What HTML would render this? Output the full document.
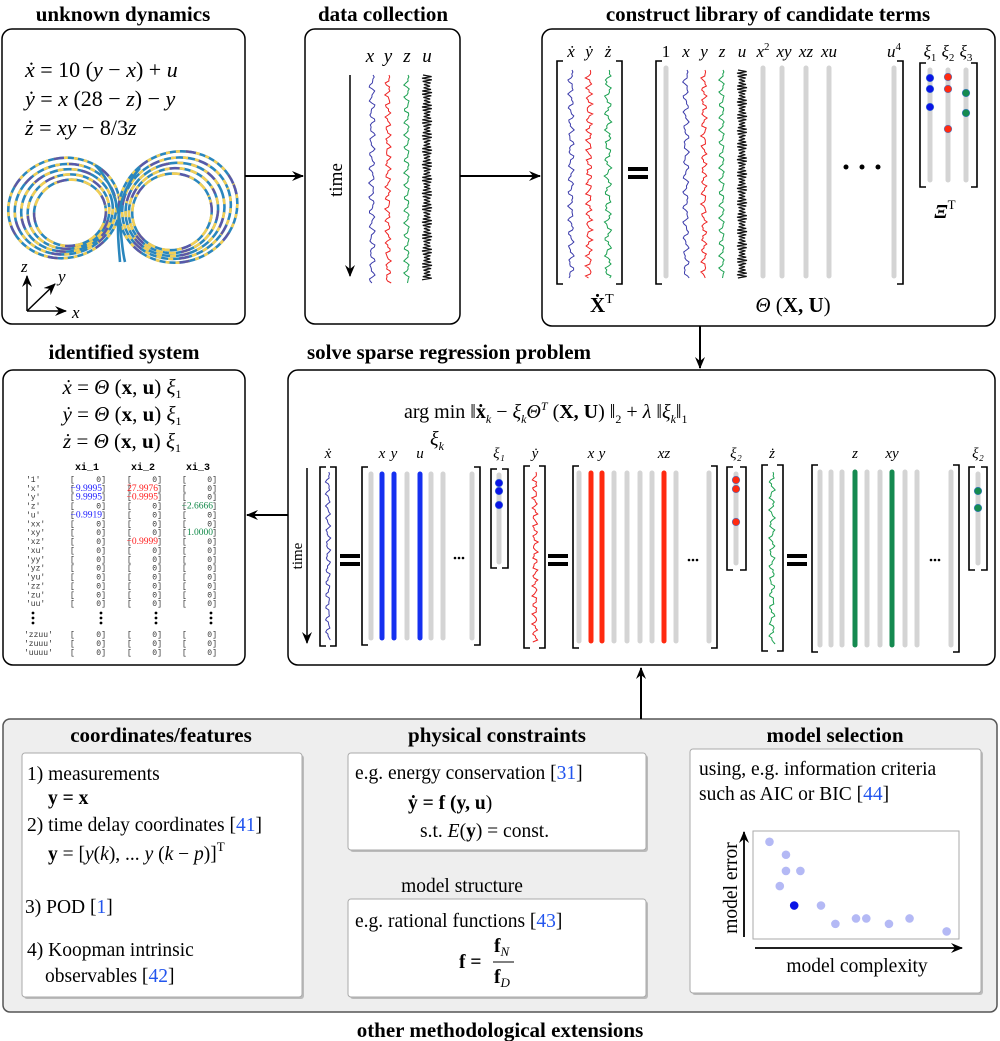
<!DOCTYPE html>
<html><head><meta charset="utf-8">
<style>
html,body{margin:0;padding:0;background:#fff;}
svg{display:block;font-family:"Liberation Serif",serif;}
.t{font-weight:bold;font-size:21px;text-anchor:middle;}
.mono{font-family:"Liberation Mono",monospace;font-size:8px;fill:#333;}
.it{font-style:italic;}
</style></head>
<body>
<svg id="fig" width="1000" height="1041" viewBox="0 0 1000 1041">
<defs>
<marker id="ah" viewBox="0 0 12 10" refX="11" refY="5" markerWidth="12" markerHeight="10" markerUnits="userSpaceOnUse" orient="auto">
<path d="M0,0 L12,5 L0,10 L4,5 Z" fill="#000"/></marker>
</defs>

<text class="t" x="123" y="21">unknown dynamics</text>
<text class="t" x="383" y="21">data collection</text>
<text class="t" x="768" y="21">construct library of candidate terms</text>
<text class="t" x="124" y="359">identified system</text>
<text class="t" x="449" y="359">solve sparse regression problem</text>

<rect x="2" y="29" width="243" height="295" rx="10" fill="#fff" stroke="#000" stroke-width="1.5"/>
<rect x="305" y="29" width="155" height="295" rx="10" fill="#fff" stroke="#000" stroke-width="1.5"/>
<rect x="542" y="29" width="453" height="297" rx="10" fill="#fff" stroke="#000" stroke-width="1.5"/>
<rect x="3" y="370" width="242" height="295" rx="10" fill="#fff" stroke="#000" stroke-width="1.5"/>
<rect x="288" y="370" width="707" height="295" rx="10" fill="#fff" stroke="#000" stroke-width="1.5"/>

<line x1="245" y1="176" x2="303" y2="176" stroke="#000" stroke-width="2" marker-end="url(#ah)"/>
<line x1="460" y1="176" x2="540" y2="176" stroke="#000" stroke-width="2" marker-end="url(#ah)"/>
<line x1="700" y1="326" x2="700" y2="368" stroke="#000" stroke-width="2" marker-end="url(#ah)"/>
<line x1="288" y1="515" x2="247" y2="515" stroke="#000" stroke-width="2" marker-end="url(#ah)"/>

<g font-size="22">
<text x="25" y="77"><tspan class="it">ẋ</tspan> = 10 (<tspan class="it">y</tspan> − <tspan class="it">x</tspan>) + <tspan class="it">u</tspan></text>
<text x="25" y="106"><tspan class="it">ẏ</tspan> = <tspan class="it">x</tspan> (28 − <tspan class="it">z</tspan>) − <tspan class="it">y</tspan></text>
<text x="25" y="135"><tspan class="it">ż</tspan> = <tspan class="it">xy</tspan> − 8/3<tspan class="it">z</tspan></text>
</g>
<g id="attractor"></g>
<g stroke="#000" stroke-width="1.5" fill="none">
<line x1="27" y1="311" x2="27" y2="276" marker-end="url(#ah)"/>
<line x1="27" y1="311" x2="55" y2="284" marker-end="url(#ah)"/>
<line x1="27" y1="311" x2="66" y2="311" marker-end="url(#ah)"/>
</g>
<text x="21" y="272" font-size="17" class="it">z</text>
<text x="58" y="282" font-size="17" class="it">y</text>
<text x="72" y="318" font-size="17" class="it">x</text>

<g font-size="19" class="it" text-anchor="middle">
<text x="370" y="62">x</text><text x="388" y="62">y</text><text x="407" y="62">z</text><text x="427" y="62">u</text>
</g>
<line x1="350" y1="75" x2="350" y2="276" stroke="#000" stroke-width="1.5" marker-end="url(#ah)"/>
<text x="0" y="0" font-size="19" text-anchor="middle" transform="translate(342,180) rotate(-90)">time</text>
<g id="datacols"></g>

<g id="lib"></g>
<g font-size="17" text-anchor="middle">
<text x="571" y="57" class="it">ẋ</text><text x="589" y="57" class="it">ẏ</text><text x="608" y="57" class="it">ż</text>
<text x="666" y="57">1</text><text x="686" y="57" class="it">x</text><text x="704" y="57" class="it">y</text><text x="722" y="57" class="it">z</text><text x="742" y="57" class="it">u</text>
<text x="763" y="57" class="it">x<tspan font-size="11" dy="-7" font-style="normal">2</tspan></text>
<text x="784" y="57" class="it">xy</text><text x="806" y="57" class="it">xz</text><text x="829" y="57" class="it">xu</text>
<text x="894" y="57" class="it">u<tspan font-size="11" dy="-7" font-style="normal">4</tspan></text>
<text x="930" y="57" class="it">ξ<tspan font-size="11" dy="4" font-style="normal">1</tspan></text>
<text x="948" y="57" class="it">ξ<tspan font-size="11" dy="4" font-style="normal">2</tspan></text>
<text x="966" y="57" class="it">ξ<tspan font-size="11" dy="4" font-style="normal">3</tspan></text>
</g>
<text x="590" y="312" font-size="21" font-weight="bold">Ẋ<tspan font-weight="normal" font-size="14" dy="-9">T</tspan></text>
<text x="793" y="312" font-size="21" text-anchor="middle"><tspan class="it">Θ</tspan> (<tspan font-weight="bold">X, U</tspan>)</text>
<text x="945" y="218" font-size="20" font-weight="bold" text-anchor="middle"><tspan class="it">Ξ</tspan><tspan font-weight="normal" font-size="13" dy="-9">T</tspan></text>

<g font-size="21" text-anchor="middle">
<text x="122" y="394"><tspan class="it">ẋ</tspan> = <tspan class="it">Θ</tspan> (<tspan font-weight="bold">x</tspan>, <tspan font-weight="bold">u</tspan>) <tspan class="it">ξ</tspan><tspan font-size="12" dy="4">1</tspan></text>
<text x="122" y="421"><tspan class="it">ẏ</tspan> = <tspan class="it">Θ</tspan> (<tspan font-weight="bold">x</tspan>, <tspan font-weight="bold">u</tspan>) <tspan class="it">ξ</tspan><tspan font-size="12" dy="4">1</tspan></text>
<text x="122" y="448"><tspan class="it">ż</tspan> = <tspan class="it">Θ</tspan> (<tspan font-weight="bold">x</tspan>, <tspan font-weight="bold">u</tspan>) <tspan class="it">ξ</tspan><tspan font-size="12" dy="4">1</tspan></text>
</g>
<g id="table"></g>

<text x="404" y="418" font-size="20">arg min ‖<tspan font-weight="bold">ẋ</tspan><tspan font-size="12" dy="5" class="it">k</tspan><tspan dy="-5"> − </tspan><tspan class="it">ξ</tspan><tspan font-size="12" dy="5" class="it">k</tspan><tspan dy="-5" class="it">Θ</tspan><tspan font-size="12" dy="-8" class="it">T</tspan><tspan dy="8"> (</tspan><tspan font-weight="bold">X, U</tspan>) ‖<tspan font-size="12" dy="5">2</tspan><tspan dy="-5"> +  </tspan><tspan class="it">λ</tspan> ‖<tspan class="it">ξ</tspan><tspan font-size="12" dy="5" class="it">k</tspan><tspan dy="-5">‖</tspan><tspan font-size="12" dy="5">1</tspan></text>
<text x="430" y="445" font-size="20" class="it">ξ<tspan font-size="12" dy="5">k</tspan></text>
<line x1="307" y1="468" x2="307" y2="643" stroke="#000" stroke-width="1.5" marker-end="url(#ah)"/>
<text x="0" y="0" font-size="15" text-anchor="middle" transform="translate(302,556) rotate(-90)">time</text>
<g id="reg"></g>

<rect x="3" y="719" width="994" height="293" rx="7" fill="#eeeeee" stroke="#555" stroke-width="1.5"/>
<line x1="641" y1="719" x2="641" y2="668" stroke="#000" stroke-width="2" marker-end="url(#ah)"/>
<text class="t" x="161" y="742">coordinates/features</text>
<text class="t" x="497" y="742">physical constraints</text>
<text class="t" x="835" y="742">model selection</text>
<text class="t" x="500" y="1037">other methodological extensions</text>

<rect x="24" y="755" width="280" height="244" rx="3" fill="#999" opacity="0.6"/>
<rect x="22" y="753" width="280" height="244" rx="3" fill="#fff" stroke="#aaa"/>
<g font-size="19.5">
<text x="27" y="780">1) measurements</text>
<text x="48" y="804" font-weight="bold">y = x</text>
<text x="27" y="831">2) time delay coordinates [<tspan fill="#2255ee">41</tspan>]</text>
<text x="48" y="860"><tspan font-weight="bold">y</tspan> = [<tspan class="it">y</tspan>(<tspan class="it">k</tspan>), ... <tspan class="it">y</tspan> (<tspan class="it">k</tspan> − <tspan class="it">p</tspan>)]<tspan font-size="13" dy="-9">T</tspan></text>
<text x="25" y="913">3) POD [<tspan fill="#2255ee">1</tspan>]</text>
<text x="27" y="956">4) Koopman intrinsic</text>
<text x="45" y="982">observables [<tspan fill="#2255ee">42</tspan>]</text>
</g>

<rect x="350" y="755" width="298" height="97" rx="3" fill="#999" opacity="0.6"/>
<rect x="348" y="753" width="298" height="97" rx="3" fill="#fff" stroke="#aaa"/>
<g font-size="19.5">
<text x="355" y="779">e.g. energy conservation [<tspan fill="#2255ee">31</tspan>]</text>
<text x="408" y="809" font-weight="bold">ẏ = f (y, u<tspan font-weight="normal">)</tspan></text>
<text x="420" y="837">s.t. <tspan class="it">E</tspan>(<tspan font-weight="bold">y</tspan>) = const.</text>
</g>
<text x="462" y="892" font-size="19.5" text-anchor="middle">model structure</text>
<rect x="350" y="901" width="298" height="98" rx="3" fill="#999" opacity="0.6"/>
<rect x="348" y="899" width="298" height="98" rx="3" fill="#fff" stroke="#aaa"/>
<g font-size="19.5">
<text x="355" y="927">e.g. rational functions [<tspan fill="#2255ee">43</tspan>]</text>
<text x="459" y="968" font-weight="bold">f =</text>
<text x="494" y="952" font-weight="bold">f<tspan font-weight="normal" font-style="italic" font-size="13" dy="4">N</tspan></text>
<line x1="493" y1="962" x2="514" y2="962" stroke="#000" stroke-width="1"/>
<text x="494" y="983" font-weight="bold">f<tspan font-weight="normal" font-style="italic" font-size="13" dy="4">D</tspan></text>
</g>

<rect x="692" y="751" width="291" height="244" rx="3" fill="#999" opacity="0.6"/>
<rect x="690" y="749" width="291" height="244" rx="3" fill="#fff" stroke="#aaa"/>
<g font-size="19.5">
<text x="699" y="775">using, e.g. information criteria</text>
<text x="699" y="800">such as AIC or BIC [<tspan fill="#2255ee">44</tspan>]</text>
</g>
<rect x="753" y="831" width="206" height="108" fill="none" stroke="#aaa"/>
<line x1="744" y1="937" x2="744" y2="832" stroke="#000" stroke-width="1.8" marker-end="url(#ah)"/>
<line x1="755" y1="948" x2="962" y2="948" stroke="#000" stroke-width="1.8" marker-end="url(#ah)"/>
<text x="0" y="0" font-size="19.5" text-anchor="middle" transform="translate(737,888) rotate(-90)">model error</text>
<text x="857" y="972" font-size="19.5" text-anchor="middle">model complexity</text>
<g id="scatter"></g>
</svg>

<script>
const complexity = [8, 16, 16, 23, 13, 20, 33, 40, 50, 55, 66, 76, 94];
const modelError = [90, 78, 63, 63, 49, 31, 31, 14, 19, 19, 14, 19, 7];
const selectedIndex = [5];

const termNames = ["'1'","'x'","'y'","'z'","'u'","'xx'","'xy'","'xz'","'xu'","'yy'","'yz'","'yu'","'zz'","'zu'","'uu'"];
const xi1Values = [0,-9.9995,9.9995,0,-0.9919,0,0,0,0,0,0,0,0,0,0];
const xi2Values = [0,27.9976,-0.9995,0,0,0,0,-0.9999,0,0,0,0,0,0,0];
const xi3Values = [0,0,0,-2.6666,0,0,1.0000,0,0,0,0,0,0,0,0];
const tailTerms = ["'zzuu'","'zuuu'","'uuuu'"];

const NS = "http://www.w3.org/2000/svg";
function mk(parent, tag, attrs, text){
  const e = document.createElementNS(NS, tag);
  for (const k in attrs) e.setAttribute(k, attrs[k]);
  if (text !== undefined) e.textContent = text;
  parent.appendChild(e);
  return e;
}

const sx = v => 753 + v / 100 * 206;
const sy = v => 939 - v / 100 * 108;
const sc = document.getElementById('scatter');
complexity.forEach((c, i) => {
  const sel = selectedIndex.includes(i);
  const el = mk(sc, 'circle', {cx: sx(c), cy: sy(modelError[i]), r: 4.3, fill: sel ? '#0a14e6' : '#b4b9f5'});
  
  
});

function squiggle(parent, cx, y0, y1, amp, f1, f2, color, w, name, step){
  step = step || 2;
  let d = '';
  for (let y = y0, k = 0; y <= y1; y += step, k++){
    const x = cx + amp * (Math.sin(k * f1) * 0.7 + Math.sin(k * f2 + 1) * 0.4);
    d += (k ? 'L' : 'M') + x.toFixed(1) + ',' + y.toFixed(1);
  }
  const el = mk(parent, 'path', {d: d, fill: 'none', stroke: color, 'stroke-width': w});
  
  
}
function zig(parent, cx, y0, y1, amp, name){
  let d = '';
  for (let y = y0, k = 0; y <= y1; y += 1.6, k++){
    const x = cx + (k % 2 ? amp : -amp) * (0.8 + 0.2 * Math.sin(k * 0.7));
    d += (k ? 'L' : 'M') + x.toFixed(1) + ',' + y.toFixed(1);
  }
  const el = mk(parent, 'path', {d: d, fill: 'none', stroke: '#111', 'stroke-width': 1.2});
  
  
}
function bracket(parent, x1, x2, y1, y2, name){
  const d = `M${x1+6},${y1}H${x1}V${y2}H${x1+6}M${x2-6},${y1}H${x2}V${y2}H${x2-6}`;
  const el = mk(parent, 'path', {d: d, fill: 'none', stroke: '#000', 'stroke-width': 1.6});
  
  
}
function col(parent, x, y1, y2, color, w, name){
  const el = mk(parent, 'line', {x1: x, x2: x, y1: y1, y2: y2, stroke: color, 'stroke-width': w, 'stroke-linecap': 'round'});
  
  
}
function dot(parent, x, y, color, name){
  const el = mk(parent, 'circle', {cx: x, cy: y, r: 3.8, fill: color, stroke: '#4a7fd0', 'stroke-width': 0.6});
  
  
}
function eq(parent, x, y, name){
  const e1 = mk(parent, 'rect', {x: x - 10, y: y - 6, width: 20, height: 4, fill: '#000'});
  
  
  const e2 = mk(parent, 'rect', {x: x - 10, y: y + 2, width: 20, height: 4, fill: '#000'});
  
  
}
function dots3(parent, xs, y, r, name){
  xs.forEach(x => {
    const el = mk(parent, 'circle', {cx: x, cy: y, r: r, fill: '#000'});
    
    
  });
}

// attractor (decorative)
const at = document.getElementById('attractor');
const lobes = [
  {cx: 64, cy: 208, rx: [56, 51, 46, 41, 36], ry: [50, 45, 41, 37, 33], rot: -12, dx: 1.5},
  {cx: 178, cy: 207, rx: [60, 55, 50, 45, 40], ry: [55, 50, 46, 42, 38], rot: -22, dx: -1.5}
];
lobes.forEach((L) => {
  L.rx.forEach((rx, j) => {
    const cx = L.cx + j * L.dx, cy = L.cy + j * 1.2;
    const base = mk(at, 'ellipse', {cx: cx, cy: cy, rx: rx, ry: L.ry[j], fill: 'none', stroke: '#2a86bd', 'stroke-width': 2.6, transform: `rotate(${L.rot} ${cx} ${cy})`});
    
    
    const ov = mk(at, 'ellipse', {cx: cx, cy: cy, rx: rx, ry: L.ry[j], fill: 'none', stroke: '#f2cf55', 'stroke-width': 2.6, 'stroke-dasharray': (4 + j) + ' ' + (6 + j % 3), 'stroke-dashoffset': j * 3, transform: `rotate(${L.rot} ${cx} ${cy})`});
    
    
    const pv = mk(at, 'ellipse', {cx: cx, cy: cy, rx: rx, ry: L.ry[j], fill: 'none', stroke: '#5a58a8', 'stroke-width': 2.4, 'stroke-dasharray': '10 40', 'stroke-dashoffset': j * 11, transform: `rotate(${L.rot} ${cx} ${cy})`});
    
    
  });
});
const cross = mk(at, 'path', {d: 'M95,165 C125,195 118,235 125,262 M140,168 C112,200 118,235 120,262', fill: 'none', stroke: '#2a86bd', 'stroke-width': 2.6});



const dc = document.getElementById('datacols');
squiggle(dc, 372, 75, 283, 3, 0.9, 1.7, '#3a3aaa', 1, 'series-x');
squiggle(dc, 388, 75, 283, 3, 1.1, 2.3, '#ee2222', 1, 'series-y');
squiggle(dc, 407, 75, 283, 3, 1.0, 2.0, '#1aa050', 1, 'series-z');
zig(dc, 427, 75, 281, 5, 'series-u');

const lib = document.getElementById('lib');
bracket(lib, 557, 622, 61, 284, 'xdot-matrix-bracket');
squiggle(lib, 571, 70, 278, 3, 0.9, 1.9, '#3a3aaa', 1, 'lib-xdot-series');
squiggle(lib, 589, 70, 278, 3.5, 1.2, 2.6, '#ee2222', 1, 'lib-ydot-series');
squiggle(lib, 608, 70, 278, 3.5, 0.8, 2.2, '#1aa050', 1, 'lib-zdot-series');
eq(lib, 638, 173, 'library-equals-sign');
bracket(lib, 656, 903, 61, 284, 'theta-matrix-bracket');
[666, 763, 782, 806, 829, 894].forEach(x => col(lib, x, 68, 276, '#d4d4d4', 5, 'library-column'));
squiggle(lib, 686, 70, 278, 3, 0.8, 1.7, '#3a3aaa', 1, 'lib-x-series');
squiggle(lib, 704, 70, 278, 3, 1.1, 2.4, '#ee2222', 1, 'lib-y-series');
squiggle(lib, 722, 70, 278, 3, 1.0, 2.0, '#1aa050', 1, 'lib-z-series');
zig(lib, 742, 70, 278, 5, 'lib-u-series');
dots3(lib, [846, 862, 878], 167, 2.5, 'library-ellipsis');
bracket(lib, 920, 977, 63, 187, 'xi-matrix-bracket');
[930, 948, 966].forEach(x => col(lib, x, 70, 180, '#d4d4d4', 5, 'xi-column'));
[78, 89, 107].forEach(y => dot(lib, 930, y, '#0a14e6', 'xi1-coefficient'));
[77, 89, 129].forEach(y => dot(lib, 948, y, '#ff2a10', 'xi2-coefficient'));
[93, 113].forEach(y => dot(lib, 966, y, '#158a50', 'xi3-coefficient'));

const reg = document.getElementById('reg');
const lab = (x, y, t, name) => {
  const el = mk(reg, 'text', {x: x, y: y, 'font-size': 15, 'font-style': 'italic', 'text-anchor': 'middle'}, t);
  
  
};
bracket(reg, 320, 336, 467, 646, 'xdot-vector-bracket');
squiggle(reg, 328, 472, 640, 2.5, 1.0, 2.1, '#3a3aaa', 1, 'reg-xdot-series');
lab(328, 458, 'ẋ', 'xdot-label');
eq(reg, 350, 560, 'equals-sign-1');
bracket(reg, 362, 480, 467, 645, 'theta-bracket-1');
[371, 407, 431, 443, 472].forEach(x => col(reg, x, 474, 638, '#d4d4d4', 5, 'theta-column'));
[382, 394, 420].forEach(x => col(reg, x, 474, 638, '#1530f0', 5, 'active-column-x'));
lab(382, 458, 'x', 'col-label'); lab(394, 458, 'y', 'col-label'); lab(420, 458, 'u', 'col-label');
dots3(reg, [455, 459, 463], 558, 1.3, 'ellipsis');
bracket(reg, 491, 508, 469, 568, 'xi1-bracket');
col(reg, 499, 475, 562, '#d4d4d4', 5, 'xi1-column');
[483, 491, 505].forEach(y => dot(reg, 499, y, '#0a14e6', 'xi1-dot'));
lab(499, 458, 'ξ₁', 'xi1-label');
bracket(reg, 524, 545, 466, 648, 'ydot-vector-bracket');
squiggle(reg, 535, 472, 642, 3, 1.3, 2.7, '#ee2222', 1, 'reg-ydot-series');
lab(535, 458, 'ẏ', 'ydot-label');
eq(reg, 558, 560, 'equals-sign-2');
bracket(reg, 573, 717, 466, 648, 'theta-bracket-2');
[579, 614, 627, 640, 652, 676, 709].forEach(x => col(reg, x, 473, 641, '#d4d4d4', 5, 'theta-column'));
[591, 602, 664].forEach(x => col(reg, x, 473, 641, '#ff2a10', 5, 'active-column-y'));
lab(591, 458, 'x', 'col-label'); lab(602, 458, 'y', 'col-label'); lab(664, 458, 'xz', 'col-label');
dots3(reg, [689, 693, 697], 560, 1.3, 'ellipsis');
bracket(reg, 727, 746, 467, 570, 'xi2-bracket');
col(reg, 736, 474, 563, '#d4d4d4', 5, 'xi2-column');
[480, 489, 522].forEach(y => dot(reg, 736, y, '#ff2a10', 'xi2-dot'));
lab(736, 458, 'ξ₂', 'xi2-label');
bracket(reg, 762, 783, 465, 651, 'zdot-vector-bracket');
squiggle(reg, 772, 472, 645, 3, 0.9, 2.2, '#1aa050', 1, 'reg-zdot-series');
lab(772, 458, 'ż', 'zdot-label');
eq(reg, 797, 560, 'equals-sign-3');
bracket(reg, 812, 959, 465, 652, 'theta-bracket-3');
[820, 831, 842, 867, 880, 905, 917, 951].forEach(x => col(reg, x, 472, 645, '#d4d4d4', 5, 'theta-column'));
[855, 892].forEach(x => col(reg, x, 472, 645, '#158a50', 5, 'active-column-z'));
lab(855, 458, 'z', 'col-label'); lab(892, 458, 'xy', 'col-label');
dots3(reg, [931, 935, 939], 560, 1.3, 'ellipsis');
bracket(reg, 969, 987, 467, 570, 'xi3-bracket');
col(reg, 978, 474, 563, '#d4d4d4', 5, 'xi3-column');
[491, 508].forEach(y => dot(reg, 978, y, '#158a50', 'xi3-dot'));
lab(978, 458, 'ξ₂', 'xi3-label');

const tb = document.getElementById('table');
[['xi_1', 87], ['xi_2', 143], ['xi_3', 198]].forEach(([t, x]) => {
  const el = mk(tb, 'text', {x: x, y: 470, 'font-family': 'Liberation Mono, monospace', 'font-size': 10, 'font-weight': 'bold', 'text-anchor': 'middle'}, t);
  
  
});
const colsX = [[70, 106, '#1a1aff'], [127, 162, '#ff2020'], [182, 217, '#138a4a']];
function cell(v, ci, y){
  const [lx, rx, c] = colsX[ci];
  const b1 = mk(tb, 'text', {x: lx, y: y, class: 'mono'}, '[');
  
  
  const b2 = mk(tb, 'text', {x: rx, y: y, class: 'mono', 'text-anchor': 'end'}, ']');
  
  
  let el;
  if (v === 0) el = mk(tb, 'text', {x: rx - 5, y: y, class: 'mono', 'text-anchor': 'end'}, '0');
  else el = mk(tb, 'text', {x: rx - 4, y: y, 'font-size': 9.5, fill: c, 'text-anchor': 'end'}, (v < 0 ? '−' : '') + Math.abs(v).toFixed(4));
  
  
}
termNames.forEach((t, i) => {
  const y = 482 + i * 8.87;
  const el = mk(tb, 'text', {x: 26, y: y, class: 'mono'}, t);
  
  
  cell(xi1Values[i], 0, y); cell(xi2Values[i], 1, y); cell(xi3Values[i], 2, y);
});
[33, 101, 156, 211].forEach(x => {
  [613, 618, 623].forEach(y => {
    const el = mk(tb, 'circle', {cx: x, cy: y, r: 1.4, fill: '#000'});
    
    
  });
});
tailTerms.forEach((t, i) => {
  const y = 637 + i * 9;
  const el = mk(tb, 'text', {x: 24, y: y, class: 'mono'}, t);
  
  
  cell(0, 0, y); cell(0, 1, y); cell(0, 2, y);
});
</script>
</body></html>
